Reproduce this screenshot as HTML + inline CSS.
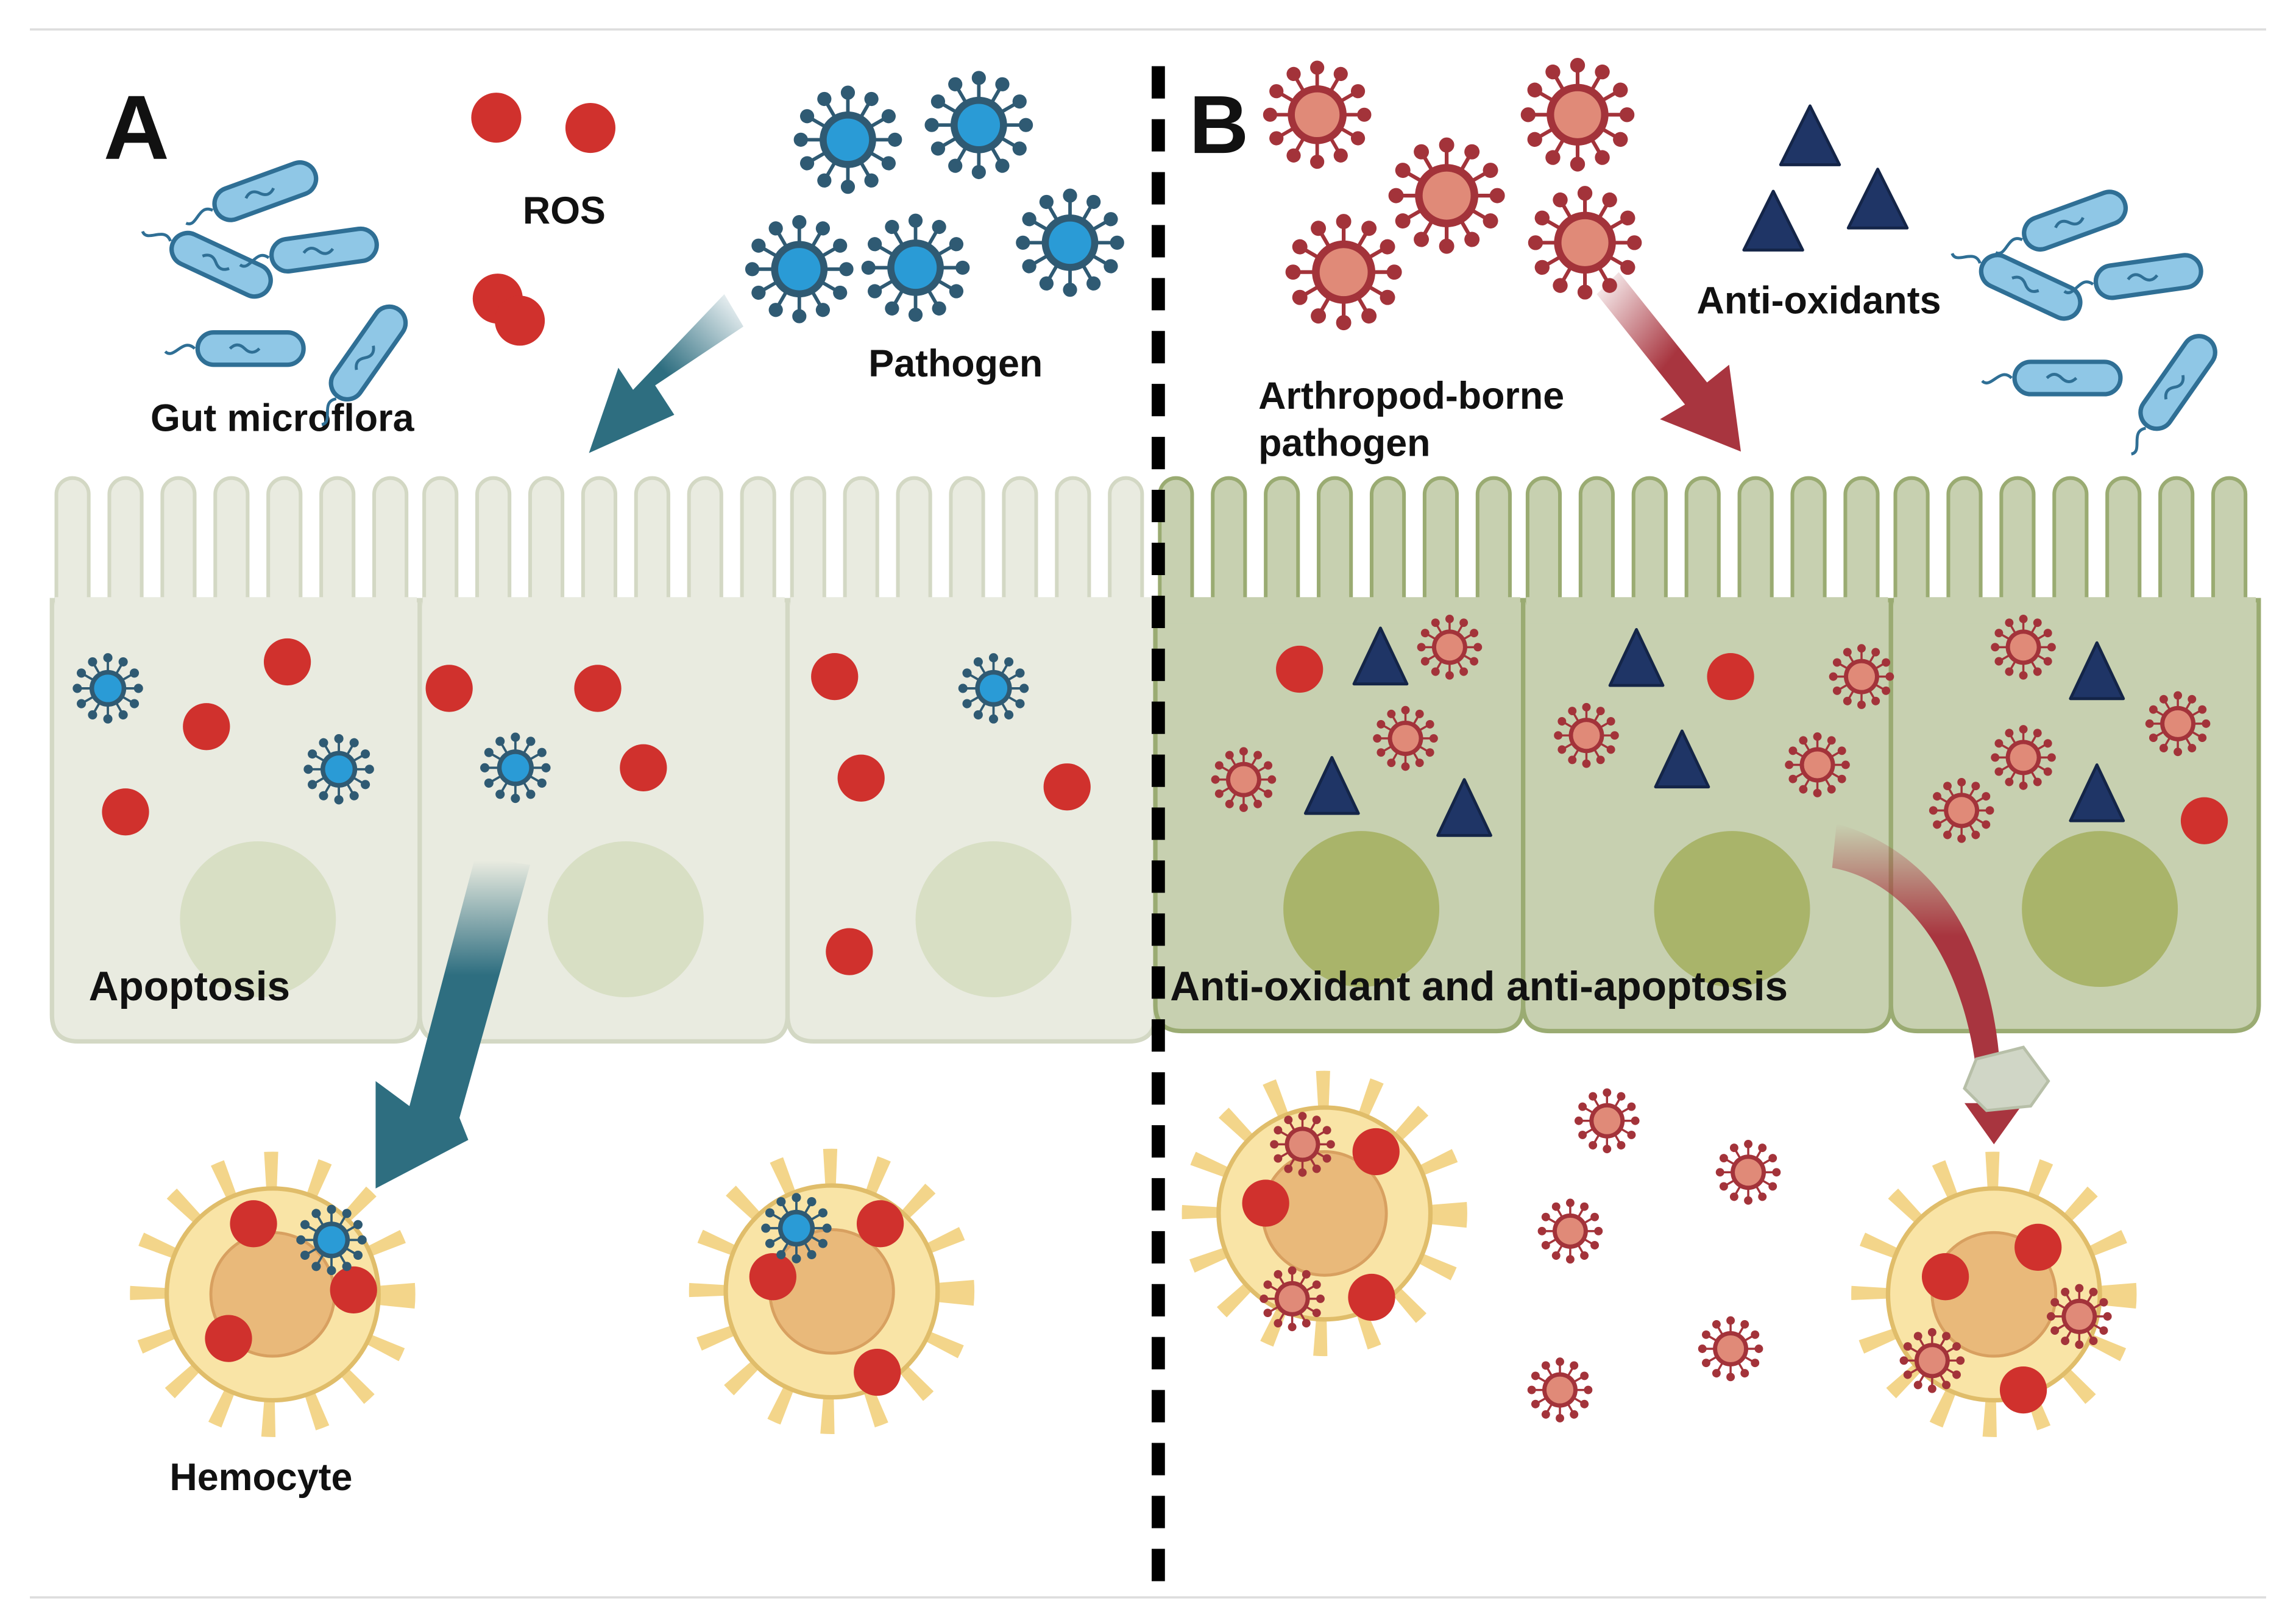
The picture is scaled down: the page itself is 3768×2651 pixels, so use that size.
<!DOCTYPE html>
<html><head><meta charset="utf-8">
<style>
html,body{margin:0;padding:0;background:#fff;}
svg{display:block;}
text{font-family:"Liberation Sans",sans-serif;font-weight:bold;fill:#111;}
</style></head>
<body>
<svg width="3768" height="2651" viewBox="0 0 1560 1098" xmlns="http://www.w3.org/2000/svg">
<defs>
  <g id="bsp">
    <g stroke="#2f5a73" stroke-width="3" fill="#2f5a73">
      <line x1="0" y1="0" x2="40" y2="0"/><line x1="0" y1="0" x2="0" y2="40"/><line x1="0" y1="0" x2="-40" y2="0"/><line x1="0" y1="0" x2="0" y2="-40"/>
      <circle cx="40" cy="0" r="4.5"/><circle cx="0" cy="40" r="4.5"/><circle cx="-40" cy="0" r="4.5"/><circle cx="0" cy="-40" r="4.5"/>
    </g>
  </g>
  <symbol id="bv" viewBox="-50 -50 100 100">
    <use href="#bsp"/><use href="#bsp" transform="rotate(30)"/><use href="#bsp" transform="rotate(60)"/>
    <circle r="24" fill="#2f5a73"/><circle r="18" fill="#2a9bd6"/>
  </symbol>
  <g id="rsp">
    <g stroke="#a3333a" stroke-width="3" fill="#a3333a">
      <line x1="0" y1="0" x2="40" y2="0"/><line x1="0" y1="0" x2="0" y2="40"/><line x1="0" y1="0" x2="-40" y2="0"/><line x1="0" y1="0" x2="0" y2="-40"/>
      <circle cx="40" cy="0" r="4.5"/><circle cx="0" cy="40" r="4.5"/><circle cx="-40" cy="0" r="4.5"/><circle cx="0" cy="-40" r="4.5"/>
    </g>
  </g>
  <symbol id="rv" viewBox="-50 -50 100 100">
    <use href="#rsp"/><use href="#rsp" transform="rotate(30)"/><use href="#rsp" transform="rotate(60)"/>
    <circle r="25" fill="#a3333a"/><circle r="19" fill="#e08a78"/>
  </symbol>
  <symbol id="bac" viewBox="-60 -20 120 40">
    <path d="M-38 0 C-46 -8 -52 8 -58 2" stroke="#2f6f95" stroke-width="2" fill="none"/>
    <rect x="-36" y="-11" width="72" height="22" rx="11" fill="#8fc7e6" stroke="#2f6f95" stroke-width="3"/>
    <path d="M-14 0 q5 -5 10 0 t10 0" stroke="#2f6f95" stroke-width="2" fill="none"/>
  </symbol>
  <symbol id="hemo" viewBox="-100 -100 200 200">
    <circle r="80" fill="none" stroke="#f3d58a" stroke-width="34" stroke-dasharray="8 23"/>
    <circle r="72" fill="#f9e4a6" stroke="#e0bd6a" stroke-width="3"/>
    <circle r="42" fill="#e9b97a" stroke="#d8a060" stroke-width="2"/>
  </symbol>
  <linearGradient id="tg1" x1="1" y1="0" x2="0" y2="1"><stop offset="0" stop-color="#2e6e80" stop-opacity="0"/><stop offset="0.5" stop-color="#2e6e80"/></linearGradient>
  <linearGradient id="tg2" x1="0" y1="0" x2="0" y2="1"><stop offset="0" stop-color="#2e6e80" stop-opacity="0"/><stop offset="0.35" stop-color="#2e6e80"/></linearGradient>
  <linearGradient id="rg1" x1="0" y1="0" x2="1" y2="1"><stop offset="0" stop-color="#a8353f" stop-opacity="0"/><stop offset="0.5" stop-color="#a8353f"/></linearGradient>
  <linearGradient id="rg2" x1="0" y1="0" x2="0" y2="1"><stop offset="0" stop-color="#a8353f" stop-opacity="0"/><stop offset="0.35" stop-color="#a8353f"/></linearGradient>
  <g id="fingL" fill="#e9ebe0" stroke="#d3d8c4" stroke-width="2.5">
    <rect x="3" y="325" width="22" height="95" rx="11"/><rect x="39" y="325" width="22" height="95" rx="11"/><rect x="75" y="325" width="22" height="95" rx="11"/>
    <rect x="111" y="325" width="22" height="95" rx="11"/><rect x="147" y="325" width="22" height="95" rx="11"/><rect x="183" y="325" width="22" height="95" rx="11"/><rect x="219" y="325" width="22" height="95" rx="11"/>
  </g>
  <g id="fingR" fill="#c7d0b0" stroke="#9aab72" stroke-width="2.5">
    <rect x="3" y="325" width="22" height="95" rx="11"/><rect x="39" y="325" width="22" height="95" rx="11"/><rect x="75" y="325" width="22" height="95" rx="11"/>
    <rect x="111" y="325" width="22" height="95" rx="11"/><rect x="147" y="325" width="22" height="95" rx="11"/><rect x="183" y="325" width="22" height="95" rx="11"/><rect x="219" y="325" width="22" height="95" rx="11"/>
  </g>
</defs>

<rect width="1560" height="1098" fill="#fff"/>
<line x1="20" y1="20" x2="1540" y2="20" stroke="#ddd" stroke-width="1.5"/>
<line x1="20" y1="1086" x2="1540" y2="1086" stroke="#ddd" stroke-width="1.5"/>

<!-- Left cells -->
<g fill="#e9ebe0" stroke="#d3d8c4" stroke-width="3">
  <path d="M35 408 h250 v282 q0 18 -18 18 h-214 q-18 0 -18 -18z"/>
  <path d="M285 408 h250 v282 q0 18 -18 18 h-214 q-18 0 -18 -18z"/>
  <path d="M535 408 h250 v282 q0 18 -18 18 h-214 q-18 0 -18 -18z"/>
</g>
<use href="#fingL" x="35"/><use href="#fingL" x="285"/><use href="#fingL" x="535"/>
<g fill="#e9ebe0">
  <rect x="37" y="406" width="246" height="18"/><rect x="287" y="406" width="246" height="18"/><rect x="537" y="406" width="246" height="18"/>
</g>
<g fill="#d8dfc4"><circle cx="175" cy="625" r="53"/><circle cx="425" cy="625" r="53"/><circle cx="675" cy="625" r="53"/></g>

<!-- Right cells -->
<g fill="#c7d0b0" stroke="#9aab72" stroke-width="3">
  <path d="M785 408 h250 v275 q0 18 -18 18 h-214 q-18 0 -18 -18z"/>
  <path d="M1035 408 h250 v275 q0 18 -18 18 h-214 q-18 0 -18 -18z"/>
  <path d="M1285 408 h250 v275 q0 18 -18 18 h-214 q-18 0 -18 -18z"/>
</g>
<use href="#fingR" x="785"/><use href="#fingR" x="1035"/><use href="#fingR" x="1285"/>
<g fill="#c7d0b0">
  <rect x="787" y="406" width="246" height="18"/><rect x="1037" y="406" width="246" height="18"/><rect x="1287" y="406" width="246" height="18"/>
</g>
<g fill="#a9b46a"><circle cx="925" cy="618" r="53"/><circle cx="1177" cy="618" r="53"/><circle cx="1427" cy="618" r="53"/></g>

<!-- Dashed divider -->
<line x1="787" y1="45" x2="787" y2="1082" stroke="#000" stroke-width="9" stroke-dasharray="22 14"/>

<!-- Labels -->
<text x="70" y="108" font-size="62">A</text>
<text x="808" y="104" font-size="56">B</text>
<text x="355" y="152" font-size="26">ROS</text>
<text x="590" y="256" font-size="26">Pathogen</text>
<text x="102" y="293" font-size="26">Gut microflora</text>
<text x="60" y="680" font-size="28">Apoptosis</text>
<text x="115" y="1013" font-size="26">Hemocyte</text>
<text x="1153" y="213" font-size="26">Anti-oxidants</text>
<text x="855" y="278" font-size="26">Arthropod-borne</text>
<text x="855" y="310" font-size="26">pathogen</text>
<text x="795" y="680" font-size="28">Anti-oxidant and anti-apoptosis</text>

<!-- Bacteria left -->
<use href="#bac" x="120" y="110" width="120" height="40" transform="rotate(-20 180 130)"/>
<use href="#bac" x="90" y="160" width="120" height="40" transform="rotate(25 150 180)"/>
<use href="#bac" x="160" y="150" width="120" height="40" transform="rotate(-8 220 170)"/>
<use href="#bac" x="110" y="217" width="120" height="40"/>
<use href="#bac" x="190" y="220" width="120" height="40" transform="rotate(-55 250 240)"/>
<!-- Bacteria right -->
<use href="#bac" x="1350" y="130" width="120" height="40" transform="rotate(-20 1410 150)"/>
<use href="#bac" x="1320" y="175" width="120" height="40" transform="rotate(25 1380 195)"/>
<use href="#bac" x="1400" y="168" width="120" height="40" transform="rotate(-8 1460 188)"/>
<use href="#bac" x="1345" y="237" width="120" height="40"/>
<use href="#bac" x="1420" y="240" width="120" height="40" transform="rotate(-55 1480 260)"/>

<!-- ROS top -->
<g fill="#d0312d"><circle cx="337" cy="80" r="17"/><circle cx="401" cy="87" r="17"/><circle cx="338" cy="203" r="17"/><circle cx="353" cy="218" r="17"/></g>

<!-- Blue viruses top -->
<use href="#bv" x="536" y="55" width="80" height="80"/>
<use href="#bv" x="625" y="45" width="80" height="80"/>
<use href="#bv" x="503" y="143" width="80" height="80"/>
<use href="#bv" x="582" y="142" width="80" height="80"/>
<use href="#bv" x="687" y="125" width="80" height="80"/>

<!-- Teal arrow 1 -->
<path d="M492 200 L505 222 L445 262 L458 282 L400 308 L420 250 L430 265 Z" fill="url(#tg1)"/>

<!-- inside left -->
<g fill="#d0312d">
  <circle cx="195" cy="450" r="16"/><circle cx="140" cy="494" r="16"/><circle cx="85" cy="552" r="16"/>
  <circle cx="305" cy="468" r="16"/><circle cx="406" cy="468" r="16"/><circle cx="437" cy="522" r="16"/>
  <circle cx="567" cy="460" r="16"/><circle cx="585" cy="529" r="16"/><circle cx="725" cy="535" r="16"/><circle cx="577" cy="647" r="16"/>
</g>
<use href="#bv" x="47" y="442" width="52" height="52"/>
<use href="#bv" x="204" y="497" width="52" height="52"/>
<use href="#bv" x="324" y="496" width="52" height="52"/>
<use href="#bv" x="649" y="442" width="52" height="52"/>

<!-- Teal arrow 2 -->
<path d="M340 585 L360 588 L312 760 L318 775 L255 808 L255 735 L278 752 L322 585 Z" fill="url(#tg2)"/>

<!-- Hemocytes A -->
<use href="#hemo" x="85" y="780" width="200" height="200"/>
<use href="#hemo" x="465" y="778" width="200" height="200"/>
<g fill="#d0312d"><circle cx="172" cy="832" r="16"/><circle cx="240" cy="877" r="16"/><circle cx="155" cy="910" r="16"/>
<circle cx="598" cy="832" r="16"/><circle cx="525" cy="868" r="16"/><circle cx="596" cy="933" r="16"/></g>
<use href="#bv" x="199" y="817" width="52" height="52"/>
<use href="#bv" x="515" y="809" width="52" height="52"/>

<!-- B top viruses -->
<use href="#rv" x="855" y="38" width="80" height="80"/>
<use href="#rv" x="940" y="90" width="86" height="86"/>
<use href="#rv" x="1030" y="36" width="84" height="84"/>
<use href="#rv" x="870" y="142" width="86" height="86"/>
<use href="#rv" x="1035" y="123" width="84" height="84"/>
<g fill="#1f3566" stroke="#142548" stroke-width="2" stroke-linejoin="round">
  <polygon points="1230,72 1250,112 1210,112"/><polygon points="1205,130 1225,170 1185,170"/><polygon points="1276,115 1296,155 1256,155"/>
</g>
<!-- Red arrow 1 -->
<path d="M1085 200 L1100 185 L1160 260 L1175 248 L1183 307 L1128 285 L1145 275 Z" fill="url(#rg1)"/>

<!-- inside right -->
<g fill="#d0312d"><circle cx="883" cy="455" r="16"/><circle cx="1176" cy="460" r="16"/><circle cx="1498" cy="558" r="16"/></g>
<g fill="#1f3566" stroke="#142548" stroke-width="2" stroke-linejoin="round">
  <polygon points="938,427 956,465 920,465"/><polygon points="905,515 923,553 887,553"/><polygon points="995,530 1013,568 977,568"/>
  <polygon points="1112,428 1130,466 1094,466"/><polygon points="1143,497 1161,535 1125,535"/><polygon points="1425,437 1443,475 1407,475"/><polygon points="1425,520 1443,558 1407,558"/>
</g>
<use href="#rv" x="961" y="416" width="48" height="48"/>
<use href="#rv" x="931" y="478" width="48" height="48"/>
<use href="#rv" x="821" y="506" width="48" height="48"/>
<use href="#rv" x="1054" y="476" width="48" height="48"/>
<use href="#rv" x="1211" y="496" width="48" height="48"/>
<use href="#rv" x="1241" y="436" width="48" height="48"/>
<use href="#rv" x="1351" y="416" width="48" height="48"/>
<use href="#rv" x="1351" y="491" width="48" height="48"/>
<use href="#rv" x="1309" y="527" width="48" height="48"/>
<use href="#rv" x="1456" y="468" width="48" height="48"/>

<!-- Red curved arrow -->
<path d="M1248 560 C1320 580 1360 650 1360 750 L1375 750 L1355 778 L1335 750 L1345 750 C1340 660 1300 600 1245 590 Z" fill="url(#rg2)"/>
<path d="M1343 720 L1375 712 L1392 735 L1380 752 L1350 755 L1335 740 Z" fill="#d0d6c6" stroke="#b7bfa8" stroke-width="2"/>

<!-- Hemocytes B -->
<use href="#hemo" x="800" y="725" width="200" height="200"/>
<use href="#hemo" x="1255" y="780" width="200" height="200"/>
<g fill="#d0312d"><circle cx="935" cy="783" r="16"/><circle cx="860" cy="818" r="16"/><circle cx="932" cy="882" r="16"/>
<circle cx="1385" cy="848" r="16"/><circle cx="1322" cy="868" r="16"/><circle cx="1375" cy="945" r="16"/></g>
<use href="#rv" x="861" y="754" width="48" height="48"/>
<use href="#rv" x="854" y="859" width="48" height="48"/>
<use href="#rv" x="1389" y="871" width="48" height="48"/>
<use href="#rv" x="1289" y="901" width="48" height="48"/>
<use href="#rv" x="1068" y="738" width="48" height="48"/>
<use href="#rv" x="1164" y="773" width="48" height="48"/>
<use href="#rv" x="1043" y="813" width="48" height="48"/>
<use href="#rv" x="1152" y="893" width="48" height="48"/>
<use href="#rv" x="1036" y="921" width="48" height="48"/>
</svg>
</body></html>
